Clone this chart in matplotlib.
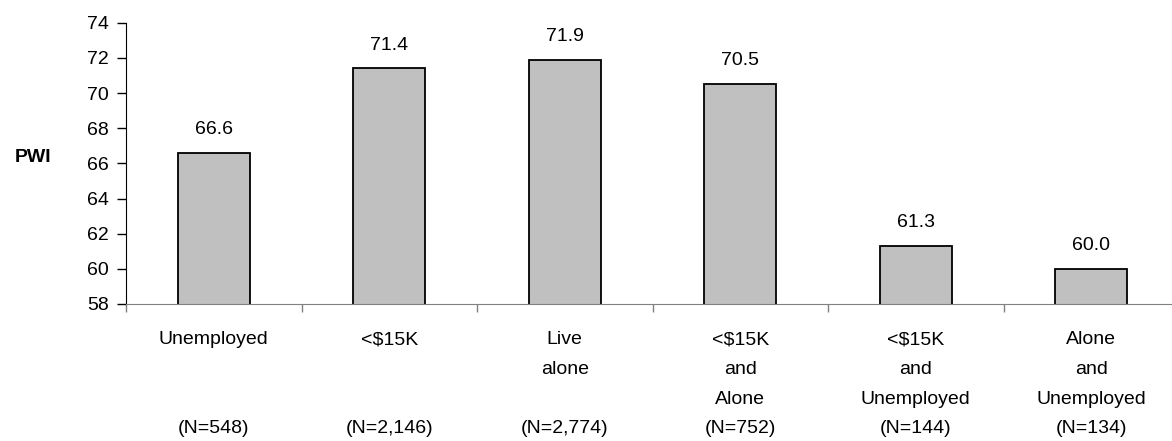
import numpy as np
import matplotlib.pyplot as plt

# PWI by group
groups = ['Unemployed', '<$15K', 'Live\nalone', '<$15K\nand\nAlone',
          '<$15K\nand\nUnemployed', 'Alone\nand\nUnemployed']
counts = ['548', '2,146', '2,774', '752', '144', '134']
pwi = [66.6, 71.4, 71.9, 70.5, 61.3, 60.0]
yticks = [58, 60, 62, 64, 66, 68, 70, 72, 74]

plt.rcParams['font.family'] = ['Liberation Sans', 'DejaVu Sans']
fs = 14

fig = plt.figure(figsize=(11.72, 4.41), dpi=100)
ax = fig.add_axes([126 / 1172, 1 - 304 / 441, 1053 / 1172, (304 - 22.7) / 441])

x = np.arange(len(pwi))
ax.bar(x, pwi, width=0.41, bottom=0, color='#c0c0c0', edgecolor='black', linewidth=1.3)
for xi, v in zip(x, pwi):
    ax.annotate(f'{v:.1f}', (xi, v), xytext=(0, 13.5), textcoords='offset points',
                ha='center', va='baseline', fontsize=fs)

ax.set_xlim(-0.5, len(pwi) - 0.5)
ax.set_ylim(58, 74)
ax.set_yticks(yticks)
ax.tick_params(axis='y', labelsize=fs, length=6.5, width=1, pad=6)

# separators between categories, labels at centers
ax.set_xticks(np.arange(-0.5, len(pwi), 1.0))
ax.set_xticklabels([])
ax.tick_params(axis='x', which='major', length=6, color='#808080', width=1)
labels = []
for g, n in zip(groups, counts):
    lines = g.split('\n')
    lines += [''] * (3 - len(lines))
    labels.append('\n'.join(lines + [f'(N={n})']))
ax.set_xticks(x, minor=True)
ax.set_xticklabels(labels, minor=True, fontsize=fs, linespacing=1.98)
ax.tick_params(axis='x', which='minor', length=0, pad=19.5)

for s in ['top', 'right']:
    ax.spines[s].set_visible(False)
ax.spines['bottom'].set_color('#808080')
ax.spines['left'].set_color('black')

fig.text(33 / 1172, 1 - 157 / 441, 'PWI', fontsize=fs, fontweight='bold',
         ha='center', va='center')

fig.savefig('out.png', dpi=100)
